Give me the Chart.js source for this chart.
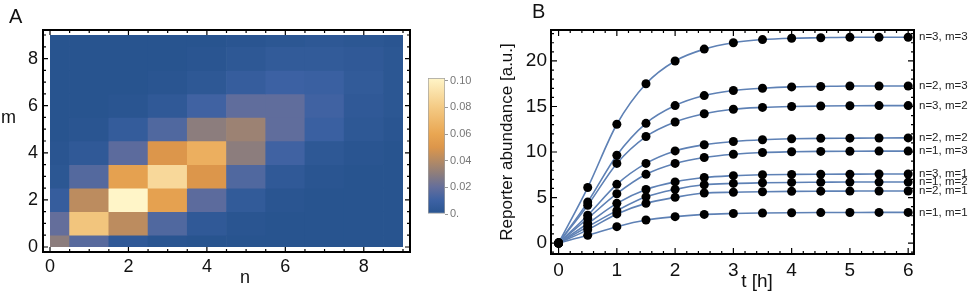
<!DOCTYPE html>
<html>
<head>
<meta charset="utf-8">
<script src="https://cdn.jsdelivr.net/npm/chart.js@4.4.1/dist/chart.umd.min.js"></script>
<style>
  body { margin: 0; background: #fff; }
  #wrap { position: relative; width: 969px; height: 297px; }
  canvas { position: absolute; }
</style>
</head>
<body>
<div id="wrap">
  <canvas id="heat" width="420" height="297" style="left:0;top:0"></canvas>
  <canvas id="cbar" width="60" height="170" style="left:420px;top:60px"></canvas>
  <canvas id="kin" width="489" height="297" style="left:480px;top:0"></canvas>
</div>
<script>
  // ---- panel A: joint distribution of n and m ----
  const nVals = [0, 1, 2, 3, 4, 5, 6, 7, 8, 9];
  const mVals = [0, 1, 2, 3, 4, 5, 6, 7, 8, 9];
  const heatM0 = [0.030, 0.017, 0.004, 0.001, 0, 0, 0, 0, 0, 0];
  const heatM1 = [0.020, 0.077, 0.042, 0.015, 0.004, 0.001, 0, 0, 0, 0];
  const heatM2 = [0.007, 0.042, 0.102, 0.057, 0.018, 0.005, 0.001, 0, 0, 0];
  const heatM3 = [0.002, 0.016, 0.057, 0.087, 0.050, 0.015, 0.004, 0.001, 0, 0];
  const heatM4 = [0.001, 0.004, 0.018, 0.050, 0.065, 0.030, 0.011, 0.003, 0.001, 0];
  const heatM5 = [0, 0.001, 0.006, 0.015, 0.030, 0.034, 0.019, 0.009, 0.003, 0.001];
  const heatM6 = [0, 0, 0.001, 0.004, 0.011, 0.019, 0.019, 0.011, 0.004, 0.002];
  const heatM7 = [0, 0, 0, 0.001, 0.003, 0.007, 0.010, 0.009, 0.005, 0.002];
  const heatM8 = [0, 0, 0, 0, 0.001, 0.003, 0.005, 0.005, 0.004, 0.002];
  const heatM9 = [0, 0, 0, 0, 0, 0.001, 0.002, 0.003, 0.002, 0.001];
  const heatTicks = [0, 2, 4, 6, 8];
  const cbarTicks = [0, 0.02, 0.04, 0.06, 0.08, 0.10];

  // ---- panel B: reporter kinetics ----
  const tHours = [0, 0.5, 1, 1.5, 2, 2.5, 3, 3.5, 4, 4.5, 5, 5.5, 6];
  const n3m3 = [0, 6.1, 13.05, 17.5, 20.0, 21.3, 22.0, 22.35, 22.5, 22.55, 22.6, 22.6, 22.6];
  const n2m3 = [0, 4.5, 9.65, 13.15, 15.1, 16.2, 16.75, 17.0, 17.15, 17.2, 17.25, 17.25, 17.25];
  const n3m2 = [0, 4.15, 8.75, 11.7, 13.3, 14.2, 14.7, 14.9, 15.0, 15.05, 15.08, 15.1, 15.1];
  const n2m2 = [0, 3.05, 6.45, 8.75, 10.12, 10.8, 11.15, 11.35, 11.45, 11.5, 11.52, 11.54, 11.55];
  const n1m3 = [0, 2.7, 5.42, 7.55, 8.75, 9.4, 9.75, 9.95, 10.03, 10.07, 10.09, 10.1, 10.1];
  const n3m1 = [0, 2.15, 4.36, 5.88, 6.72, 7.2, 7.4, 7.5, 7.54, 7.56, 7.57, 7.58, 7.58];
  const n1m2 = [0, 1.8, 3.56, 5.08, 5.9, 6.4, 6.55, 6.62, 6.66, 6.68, 6.7, 6.7, 6.7];
  const n2m1 = [0, 1.45, 3.2, 4.36, 5.02, 5.5, 5.58, 5.64, 5.68, 5.7, 5.71, 5.72, 5.72];
  const n1m1 = [0, 0.85, 1.8, 2.53, 2.9, 3.15, 3.25, 3.3, 3.33, 3.35, 3.36, 3.37, 3.37];
  const curveLabels = ["n=3, m=3", "n=2, m=3", "n=3, m=2", "n=2, m=2", "n=1, m=3",
                       "n=3, m=1", "n=1, m=2", "n=2, m=1", "n=1, m=1"];
  const curves = [n3m3, n2m3, n3m2, n2m2, n1m3, n3m1, n1m2, n2m1, n1m1];
  const tTicks = [0, 1, 2, 3, 4, 5, 6];
  const yTicks = [0, 5, 10, 15, 20];

  const FONT = "'Liberation Sans', Arial, Helvetica, sans-serif";
  const INK = "#111";
  const LINE_BLUE = "#5e81b5";

  // colour map (blue -> grey -> orange -> pale yellow)
  const colorStops = [
    [0.000, [40, 84, 143]],
    [0.010, [60, 97, 163]],
    [0.020, [100, 110, 155]],
    [0.030, [140, 125, 125]],
    [0.040, [180, 138, 100]],
    [0.050, [220, 150, 75]],
    [0.060, [233, 166, 82]],
    [0.080, [244, 202, 132]],
    [0.102, [255, 245, 200]]
  ];
  function heatColor(v) {
    if (v <= colorStops[0][0]) return "rgb(" + colorStops[0][1].join(",") + ")";
    for (let i = 1; i < colorStops.length; i++) {
      const [v1, c1] = colorStops[i];
      const [v0, c0] = colorStops[i - 1];
      if (v <= v1) {
        const f = (v - v0) / (v1 - v0);
        const c = c0.map((a, k) => Math.round(a + (c1[k] - a) * f));
        return "rgb(" + c.join(",") + ")";
      }
    }
    return "rgb(" + colorStops[colorStops.length - 1][1].join(",") + ")";
  }

  const heatRows = [heatM0, heatM1, heatM2, heatM3, heatM4, heatM5, heatM6, heatM7, heatM8, heatM9];
  const heatMax = Math.max(...heatRows.flat());
  const heatCells = [];
  heatRows.forEach((row, mi) => {
    row.forEach((v, ni) => {
      heatCells.push({ x: nVals[ni], y: [mVals[mi] - 0.5, mVals[mi] + 0.5], v: v });
    });
  });

  // frame with inward ticks, Mathematica style
  function drawFrame(ctx, box, xs, ys, xMinor, yMinor, isMajorX, isMajorY, majLen, minLen) {
    ctx.save();
    ctx.strokeStyle = "#000000";
    ctx.lineWidth = 1.2;
    ctx.beginPath();
    xMinor.forEach(v => {
      const px = xs.getPixelForValue(v);
      const len = isMajorX(v) ? majLen : minLen;
      ctx.moveTo(px, box.bottom); ctx.lineTo(px, box.bottom - len);
      ctx.moveTo(px, box.top); ctx.lineTo(px, box.top + len);
    });
    yMinor.forEach(v => {
      const py = ys.getPixelForValue(v);
      const len = isMajorY(v) ? majLen : minLen;
      ctx.moveTo(box.left, py); ctx.lineTo(box.left + len, py);
      ctx.moveTo(box.right, py); ctx.lineTo(box.right - len, py);
    });
    ctx.stroke();
    ctx.lineWidth = 2;
    ctx.beginPath();
    ctx.rect(box.left, box.top, box.right - box.left, box.bottom - box.top);
    ctx.stroke();
    ctx.restore();
  }

  function steps(a, b, s) {
    const out = [];
    for (let v = a; v <= b + 1e-9; v += s) out.push(Math.round(v * 100) / 100);
    return out;
  }

  const heatDecor = {
    id: "heatDecor",
    afterDraw(chart) {
      const { ctx, chartArea: a, scales } = chart;
      const box = { left: a.left - 7, right: a.right + 7, top: a.top - 5, bottom: a.bottom + 5 };
      drawFrame(ctx, box, scales.x, scales.y, steps(0, 9, 0.5), steps(0, 9, 0.5),
        v => v % 2 === 0, v => v % 2 === 0, 5, 3);
      ctx.save();
      ctx.fillStyle = INK;
      ctx.textBaseline = "alphabetic";
      ctx.font = "20px " + FONT;
      ctx.fillText("A", 9, 23);
      ctx.font = "18px " + FONT;
      ctx.fillText("m", 1, 123);
      ctx.textAlign = "center";
      ctx.fillText("n", 245, 283);
      ctx.restore();
    }
  };

  new Chart(document.getElementById("heat"), {
    type: "bar",
    data: {
      datasets: [{
        data: heatCells,
        backgroundColor: c => heatColor(c.raw ? c.raw.v : 0),
        borderWidth: 0,
        barPercentage: 1,
        categoryPercentage: 1,
        clip: 0
      }]
    },
    options: {
      responsive: false,
      animation: false,
      devicePixelRatio: 1,
      layout: { padding: { left: 0, right: 17, top: 35, bottom: 0 } },
      plugins: { legend: { display: false }, tooltip: { enabled: false } },
      scales: {
        x: {
          type: "linear", min: 0, max: 9, offset: false,
          afterBuildTicks: s => { s.ticks = heatTicks.map(v => ({ value: v })); },
          afterFit: s => { s.height = 50; },
          grid: { display: false, drawTicks: false },
          border: { display: false },
          ticks: { font: { family: FONT, size: 18 }, color: INK, padding: 9, maxRotation: 0 }
        },
        y: {
          type: "linear", min: 0, max: 9,
          afterBuildTicks: s => { s.ticks = heatTicks.map(v => ({ value: v })); },
          afterFit: s => { s.width = 50; },
          grid: { display: false, drawTicks: false },
          border: { display: false },
          ticks: { font: { family: FONT, size: 18 }, color: INK, padding: 12 }
        }
      }
    },
    plugins: [heatDecor]
  });

  // colour bar
  new Chart(document.getElementById("cbar"), {
    type: "bar",
    data: {
      labels: ["p"],
      datasets: [{
        data: [[0, heatMax]],
        backgroundColor: c => {
          const a = c.chart.chartArea;
          if (!a) return "#888";
          const g = c.chart.ctx.createLinearGradient(0, a.bottom, 0, a.top);
          colorStops.forEach(([v, col]) => g.addColorStop(Math.min(1, v / heatMax), "rgb(" + col.join(",") + ")"));
          return g;
        },
        borderColor: "#a0a0a0",
        borderWidth: 1,
        borderSkipped: false,
        barPercentage: 1,
        categoryPercentage: 1
      }]
    },
    options: {
      responsive: false,
      animation: false,
      devicePixelRatio: 1,
      layout: { padding: { left: 8, right: 0, top: 18, bottom: 16 } },
      plugins: { legend: { display: false }, tooltip: { enabled: false } },
      scales: {
        x: { display: false },
        y: {
          position: "right", min: 0, max: heatMax,
          afterBuildTicks: s => { s.ticks = cbarTicks.map(v => ({ value: v })); },
          afterFit: s => { s.width = 35; },
          grid: { drawOnChartArea: false, drawTicks: true, tickLength: 3, color: "#999" },
          border: { display: false },
          ticks: {
            font: { family: FONT, size: 11 }, color: "#777", padding: 2,
            callback: v => (v === 0 ? "0." : v.toFixed(2))
          }
        }
      }
    }
  });

  // panel B
  const kinDecor = {
    id: "kinDecor",
    afterDraw(chart) {
      const { ctx, chartArea: a, scales } = chart;
      drawFrame(ctx, a, scales.x, scales.y, steps(0, 6, 0.2), steps(-1, 23, 1),
        v => Number.isInteger(v), v => v % 5 === 0, 6, 3);
      ctx.save();
      ctx.fillStyle = "#222";
      ctx.font = "11.5px " + FONT;
      ctx.textBaseline = "middle";
      curves.forEach((c, i) => {
        ctx.fillText(curveLabels[i], a.right + 5, scales.y.getPixelForValue(c[c.length - 1]));
      });
      ctx.fillStyle = INK;
      ctx.font = "20px " + FONT;
      ctx.textBaseline = "alphabetic";
      ctx.fillText("B", 52, 18);
      ctx.font = "19px " + FONT;
      ctx.textAlign = "center";
      ctx.fillText("t [h]", 277, 287);
      ctx.restore();
    }
  };

  const lineSets = curves.map(c => ({
    data: c.map((y, i) => ({ x: tHours[i], y: y })),
    borderColor: LINE_BLUE,
    borderWidth: 1.6,
    pointRadius: 0,
    cubicInterpolationMode: "monotone",
    fill: false,
    order: 1
  }));
  const dotSets = curves.map(c => ({
    data: c.map((y, i) => ({ x: tHours[i], y: y })),
    showLine: false,
    pointRadius: 4.5,
    pointBackgroundColor: "#000",
    pointBorderWidth: 0,
    order: 0
  }));

  new Chart(document.getElementById("kin"), {
    type: "line",
    data: { datasets: lineSets.concat(dotSets) },
    options: {
      responsive: false,
      animation: false,
      devicePixelRatio: 1,
      layout: { padding: { left: 0, right: 55, top: 30, bottom: 0 } },
      plugins: { legend: { display: false }, tooltip: { enabled: false } },
      scales: {
        x: {
          type: "linear", min: -0.13, max: 6.1,
          afterBuildTicks: s => { s.ticks = tTicks.map(v => ({ value: v })); },
          afterFit: s => { s.height = 43; },
          grid: { display: false, drawTicks: false },
          border: { display: false },
          ticks: { font: { family: FONT, size: 19 }, color: INK, padding: 5, maxRotation: 0 }
        },
        y: {
          type: "linear", min: -1.2, max: 23.4,
          afterBuildTicks: s => { s.ticks = yTicks.map(v => ({ value: v })); },
          afterFit: s => { s.width = 71; },
          grid: { display: false, drawTicks: false },
          border: { display: false },
          ticks: { font: { family: FONT, size: 19 }, color: INK, padding: 4 },
          title: {
            display: true, text: "Reporter abundance [a.u.]",
            font: { family: FONT, size: 17 }, color: INK,
            padding: { top: 17, bottom: 0 }
          }
        }
      }
    },
    plugins: [kinDecor]
  });
</script>
</body>
</html>
